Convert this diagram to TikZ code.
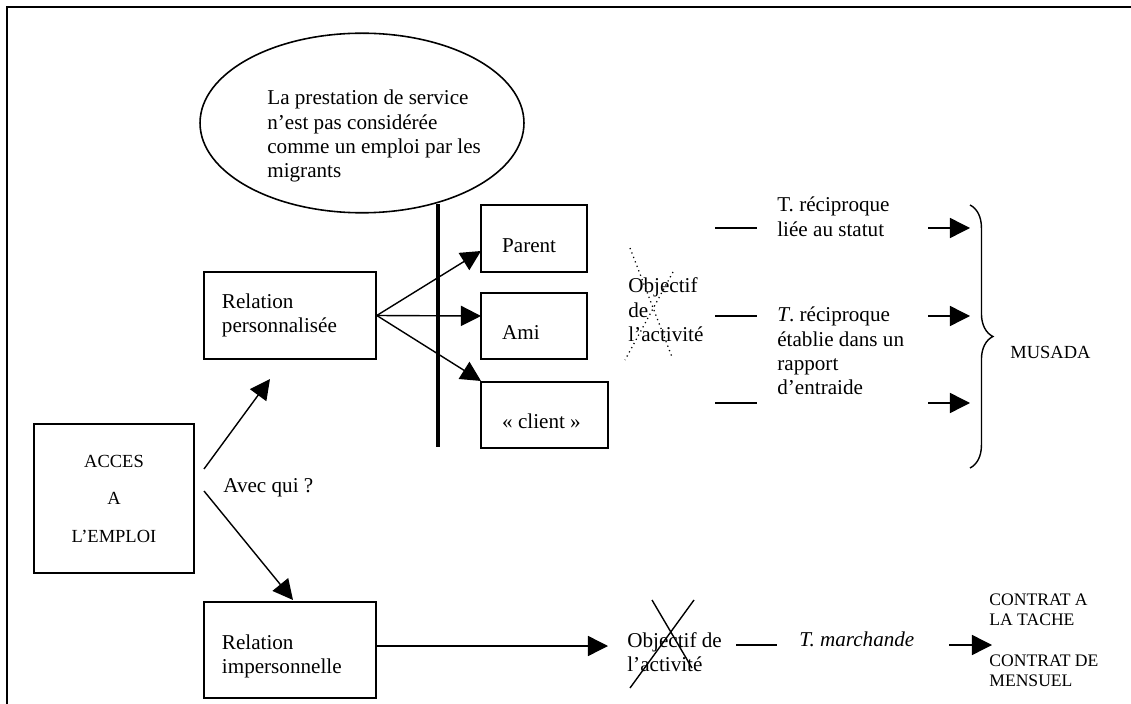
\documentclass[tikz,border=0pt]{standalone}
\usepackage{fontspec}
\setmainfont{Liberation Serif}
\usetikzlibrary{arrows.meta,positioning,shapes.geometric,decorations.pathreplacing,graphs}

\begin{document}
\begin{tikzpicture}[x=0.568pt,y=-0.568pt]
	\tikzstyle{every node}=[font=\fontsize{12}{13.8}\selectfont,execute at begin node={\frenchspacing\spaceskip=0pt\xspaceskip=0pt}];
	\tikzstyle{boite}=[draw,rectangle,line width=0.9pt,align=left,inner ysep=0pt];
	\tikzstyle{texte}=[anchor=base west,align=left,inner sep=0pt,text width=150pt];
	\tikzstyle{majuscule}=[font=\fontsize{10}{11.9}\selectfont];
	\tikzstyle{trait}=[draw,line width=0.8pt];
	\tikzstyle{fleche}=[draw,line width=0.8pt,-{Triangle[length=11.4pt,width=11.4pt]}];
	\useasboundingbox (0,0) rectangle (1131,704);
	\clip (0,0) rectangle (1131,704);
	% cadre
	\draw[line width=1.2pt] (7,720) -- (7,7) -- (1150,7);
	% bulle
	\node (bulle) [draw,ellipse,line width=0.9pt,minimum width=184pt,minimum height=102pt,inner sep=0pt] at (362,123) {};
	\node (bulletexte) [texte] at (267,105) {La prestation de service\\n’est pas considérée\\comme un emploi par les\\migrants};
	\draw[line width=2.8pt] (438,204) -- (438,447);
	% boites
	\node (acces) [boite,align=center,minimum width=90.9pt,minimum height=84.6pt,font=\fontsize{10.5}{21.3}\selectfont] at (114,498.5) {ACCES\\A\\L’EMPLOI};
	\node (perso) [boite,text width=77.3pt,inner xsep=10.2pt,minimum height=49.4pt] at (290,315.5) {Relation\\personnalisée};
	\node (imperso) [boite,text width=77.3pt,inner xsep=10.2pt,minimum height=54.5pt,text height=16pt] at (290,650) {Relation\\impersonnelle};
	\node (parent) [boite,text width=36.2pt,inner xsep=12pt,minimum height=38.1pt,text height=15.5pt,text depth=0pt] at (534,238.5) {Parent};
	\node (ami) [boite,text width=36.2pt,inner xsep=12pt,minimum height=37.5pt,text height=15.5pt,text depth=0pt] at (534,326) {Ami};
	\node (client) [boite,text width=48.1pt,inner xsep=12pt,minimum height=37.5pt,text height=15.5pt,text depth=0pt] at (544.5,415) {«~client~»};
	% textes
	\node (avec) [texte] at (223,492) {Avec qui ?};
	\node (obj1) [texte] at (628,293) {Objectif\\de\\l’activité};
	\node (recip1) [texte] at (777,212) {T. réciproque\\liée au statut};
	\node (recip2) [texte] at (777,322) {\textit{T}. réciproque\\établie dans un\\rapport\\d’entraide};
	\node (musada) [texte,font=\fontsize{10.5}{12}\selectfont] at (1010,359) {MUSADA};
	\node (obj2) [texte] at (627,647) {Objectif de\\l’activité};
	\node (marchande) [texte] at (799,646) {\textit{T. marchande}};
	\node (contrat1) [texte,majuscule] at (989,605) {CONTRAT A\\LA TACHE};
	\node (contrat2) [texte,majuscule] at (989,666) {CONTRAT DE\\MENSUEL};
	% croix
	\draw[dotted,line width=0.7pt] (630,248) -- (672,357) (673,272) -- (625,360);
	\draw[line width=0.8pt] (652,600) -- (692,668) (694,600) -- (630,688);
	% points des fleches
	\coordinate (d1) at (204,469);
	\coordinate (a1) at (270,379);
	\coordinate (d2) at (204,491);
	\coordinate (a2) at (293,600);
	\coordinate (fan) at (perso.east);
	\coordinate (tparent) at (481,251);
	\coordinate (tami) at (481,316);
	\coordinate (tclient) at (481,381);
	\coordinate (tobj) at (608,646);
	\coordinate (simp) at (imperso.east |- tobj);
	\coordinate (c1) at (949,645);
	\coordinate (c2) at (992,645);
	\foreach \y/\n in {228/1,316/2,403/3}{
		\draw[trait] (715,\y) -- (757,\y);
		\coordinate (b\n) at (928,\y);
		\coordinate (m\n) at (970,\y);
	}
	\draw[trait] (736,645) -- (777,645);
	\draw[line width=0.8pt,decorate,decoration={brace,amplitude=13pt}] (970,205) -- (970,468);
	\graph [use existing nodes,edges={fleche}]{
		d1 -> a1; d2 -> a2;
		fan -> tparent; fan -> tami; fan -> tclient;
		simp -> tobj;
		b1 -> m1; b2 -> m2; b3 -> m3;
		c1 -> c2;
	};
\end{tikzpicture}
\end{document}
